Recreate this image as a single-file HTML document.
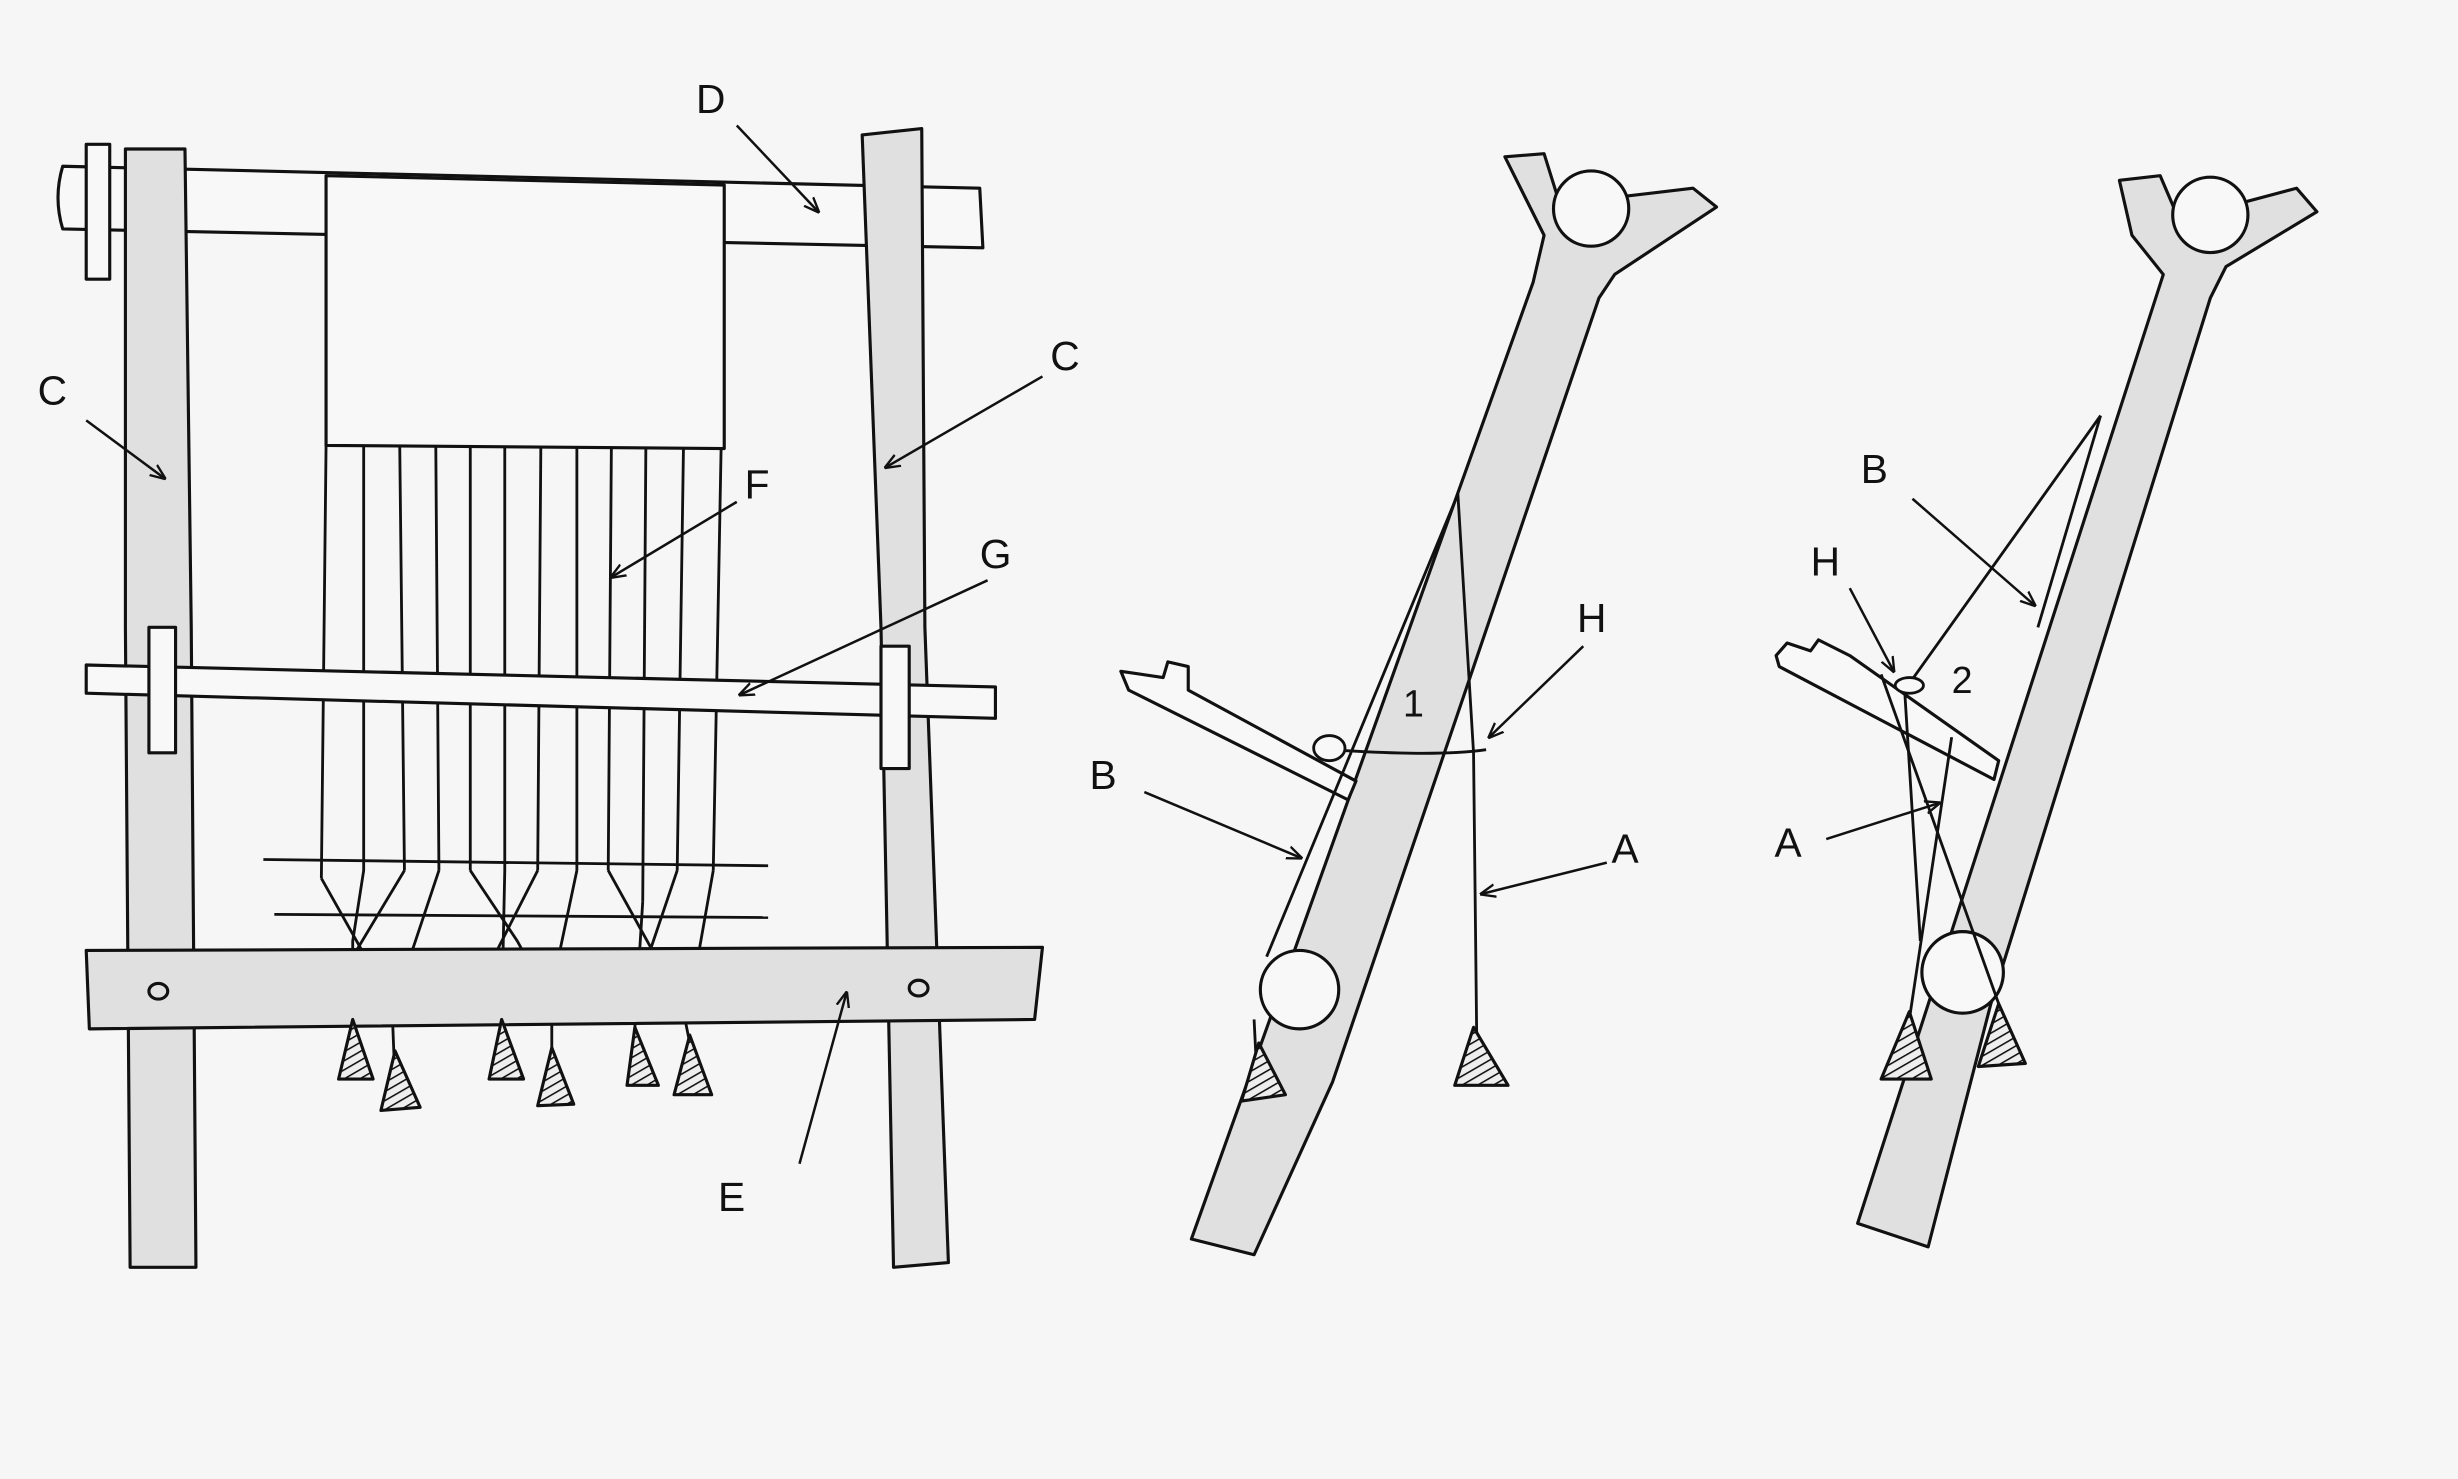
<!DOCTYPE html>
<html><head><meta charset="utf-8"><style>
html,body{margin:0;padding:0;background:#f6f6f6;}
svg{display:block;}
text{font-family:"Liberation Sans",sans-serif;font-size:26px;fill:#111;}
</style></head><body>
<svg width="2458" height="1479" viewBox="0 0 1568 943" preserveAspectRatio="none" xmlns="http://www.w3.org/2000/svg">
<defs>
<marker id="ar" markerWidth="10" markerHeight="10" refX="9" refY="5" orient="auto" markerUnits="userSpaceOnUse"><path d="M0,1 L10,5 L0,9" fill="none" stroke="#111" stroke-width="1.5"/></marker>
<pattern id="h" width="5" height="5" patternUnits="userSpaceOnUse" patternTransform="rotate(-30)"><rect width="5" height="5" fill="#eee"/><line x1="0" y1="0" x2="5" y2="0" stroke="#111" stroke-width="2"/></pattern>
</defs>
<rect width="1568" height="943" fill="#f6f6f6"/>
<g stroke="#111" stroke-width="2" fill="none" stroke-linejoin="round">
<path d="M40,106 L625,120 L627,158 L40,146 Q34,126 40,106Z" fill="#f8f8f8"/>
<path d="M55,92 L70,92 L70,178 L55,178Z" fill="#f8f8f8"/>
<path d="M208,112 L462,118 L462,286 L208,284Z" fill="#f8f8f8"/>
<path d="M80,95 L118,95 L122,400 L125,808 L83,808 L80,400Z" fill="#e0e0e0"/>
<path d="M550,86 L588,82 L590,400 L605,805 L570,808 L562,400Z" fill="#e0e0e0"/>
<g stroke-width="1.8">
<line x1="208" y1="284" x2="205" y2="560"/><line x1="232" y1="284" x2="232" y2="555"/>
<line x1="255" y1="284" x2="258" y2="555"/><line x1="278" y1="284" x2="280" y2="555"/>
<line x1="300" y1="284" x2="300" y2="555"/><line x1="322" y1="285" x2="322" y2="555"/>
<line x1="345" y1="285" x2="343" y2="555"/><line x1="368" y1="285" x2="368" y2="555"/>
<line x1="390" y1="285" x2="388" y2="555"/><line x1="412" y1="285" x2="410" y2="575"/>
<line x1="436" y1="285" x2="432" y2="555"/><line x1="460" y1="286" x2="455" y2="555"/>
<line x1="168" y1="548" x2="490" y2="552"/><line x1="175" y1="583" x2="490" y2="585"/>
<path d="M205,560 L250,640 L252,690"/><path d="M232,555 L225,600 L225,650"/>
<path d="M258,555 L225,610"/><path d="M280,555 L255,630"/>
<path d="M300,555 L330,600 L352,640 L352,670"/><path d="M322,555 L320,650"/>
<path d="M343,555 L315,610"/><path d="M368,555 L350,640"/>
<path d="M388,555 L435,640 L440,665"/><path d="M410,575 L405,655"/>
<path d="M432,555 L410,620"/><path d="M455,555 L440,640"/>
</g>
<path d="M55,424 L635,438 L635,458 L55,442Z" fill="#f8f8f8"/>
<path d="M95,400 L112,400 L112,480 L95,480Z" fill="#f8f8f8"/>
<path d="M562,412 L580,412 L580,490 L562,490Z" fill="#f8f8f8"/>
<path d="M55,606 L665,604 L660,650 L57,656Z" fill="#e0e0e0"/>
<ellipse cx="101" cy="632" rx="6" ry="5"/><ellipse cx="586" cy="630" rx="6" ry="5"/>
<g fill="url(#h)">
<path d="M225,650 L216,688 L238,688Z"/><path d="M252,670 L243,708 L268,706Z"/>
<path d="M320,650 L312,688 L334,688Z"/><path d="M352,668 L343,705 L366,704Z"/>
<path d="M405,655 L400,692 L420,692Z"/><path d="M440,660 L430,698 L454,698Z"/>
</g>
<path d="M985,150 L960,100 L985,98 L995,130 L1080,120 L1095,132 L1030,175 L1020,190 L850,690 L800,800 L760,790 L978,180Z" fill="#e0e0e0"/>
<circle cx="1015" cy="133" r="24" fill="#f8f8f8"/>
<circle cx="829" cy="631" r="25" fill="#f8f8f8"/>
<path d="M715,428 L742,432 L745,422 L758,425 L758,440 L865,498 L860,510 L720,440Z" fill="#f8f8f8"/>
<g stroke-width="1.8">
<path d="M930,315 L808,610"/><path d="M930,315 L940,480 L942,660"/>
<path d="M848,478 C880,480 920,482 948,478"/>
<ellipse cx="848" cy="477" rx="10" ry="8" fill="#f8f8f8"/>
<path d="M800,650 L802,690"/>
</g>
<g fill="url(#h)">
<path d="M940,655 L928,692 L962,692Z"/><path d="M803,665 L792,702 L820,698Z"/>
</g>
<path d="M1360,150 L1352,115 L1378,112 L1390,140 L1465,120 L1478,135 L1420,170 L1410,190 L1270,640 L1230,795 L1185,780 L1380,175Z" fill="#e0e0e0"/>
<circle cx="1410" cy="137" r="24" fill="#f8f8f8"/>
<circle cx="1252" cy="620" r="26" fill="#f8f8f8"/>
<path d="M1133,418 L1140,410 L1155,415 L1160,408 L1180,418 L1275,485 L1272,497 L1135,425Z" fill="#f8f8f8"/>
<g stroke-width="1.8">
<path d="M1340,265 L1215,440 L1225,600"/><path d="M1340,265 L1300,400"/>
<path d="M1200,430 L1275,640"/><path d="M1245,470 L1218,650"/>
<ellipse cx="1218" cy="437" rx="9" ry="5" fill="#f8f8f8"/>
</g>
<g fill="url(#h)">
<path d="M1218,645 L1200,688 L1232,688Z"/><path d="M1275,640 L1262,680 L1292,678Z"/>
</g>
<g stroke-width="1.6" marker-end="url(#ar)">
<line x1="470" y1="80" x2="522" y2="135"/>
<line x1="55" y1="268" x2="105" y2="305"/>
<line x1="665" y1="240" x2="565" y2="298"/>
<line x1="470" y1="320" x2="390" y2="368"/>
<line x1="630" y1="370" x2="472" y2="443"/>
<line x1="510" y1="742" x2="540" y2="633"/>
<line x1="1010" y1="412" x2="950" y2="470"/>
<line x1="730" y1="505" x2="830" y2="547"/>
<line x1="1025" y1="550" x2="945" y2="570"/>
<line x1="1220" y1="318" x2="1298" y2="386"/>
<line x1="1180" y1="375" x2="1208" y2="428"/>
<line x1="1165" y1="535" x2="1237" y2="512"/>
</g>
</g>
<text x="444" y="72">D</text>
<text x="24" y="258">C</text>
<text x="670" y="236">C</text>
<text x="475" y="318">F</text>
<text x="625" y="362">G</text>
<text x="458" y="772">E</text>
<text x="895" y="457" style="font-size:24px">1</text>
<text x="1006" y="403">H</text>
<text x="695" y="503">B</text>
<text x="1028" y="550">A</text>
<text x="1187" y="308">B</text>
<text x="1155" y="367">H</text>
<text x="1245" y="442" style="font-size:24px">2</text>
<text x="1132" y="546">A</text>
</svg>
</body></html>
